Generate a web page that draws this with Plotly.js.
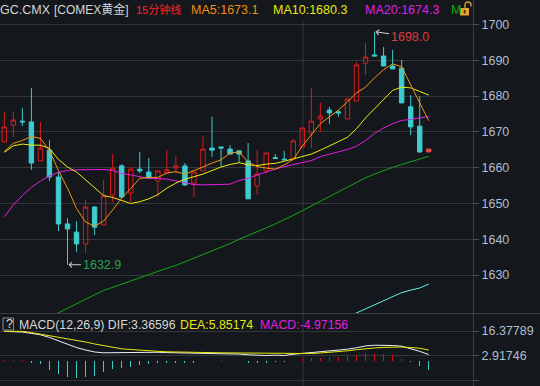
<!DOCTYPE html>
<html><head><meta charset="utf-8">
<script src="https://cdn.plot.ly/plotly-3.0.1.min.js"></script>
<style>html,body{margin:0;padding:0;background:#14171c;}#chart{width:540px;height:386px;}</style>
</head><body><div id="chart"></div>
<script>
// ---- data ----
const symbol = "GC.CMX";
const market = "[COMEX黄金]";
const period = "15分钟线";
const openP = [1667.2,1671.9,1673.0,1672.8,1661.9,1664.9,1657.4,1644.3,1642.0,1638.7,1649.0,1644.0,1652.4,1660.5,1652.9,1659.6,1658.8,1656.3,1658.5,1659.9,1660.5,1655.7,1659.1,1665.5,1665.8,1665.2,1664.7,1661.9,1654.9,1659.1,1662.8,1662.4,1662.4,1665.8,1669.7,1673.6,1676.1,1675.6,1673.6,1678.6,1689.2,1691.5,1691.2,1688.4,1687.8,1677.0,1671.6,1664.4];
const closeP = [1671.4,1673.3,1672.8,1661.3,1665.5,1657.4,1644.3,1642.9,1638.7,1649.0,1643.4,1652.1,1659.9,1651.8,1659.6,1659.1,1657.1,1659.1,1659.4,1660.5,1655.2,1658.8,1665.2,1664.9,1665.5,1663.8,1663.8,1651.3,1658.2,1664.1,1662.6,1662.2,1667.5,1671.1,1673.0,1674.4,1675.3,1675.3,1679.2,1688.7,1690.9,1691.2,1688.4,1687.6,1678.1,1671.4,1664.4,1665.2];
const highP = [1675.6,1675.6,1676.7,1682.3,1672.8,1667.7,1658.8,1645.9,1645.1,1651.0,1649.3,1656.6,1663.8,1661.0,1660.2,1664.4,1662.7,1659.1,1664.9,1663.5,1661.3,1658.8,1668.9,1674.2,1665.8,1666.3,1664.7,1666.9,1664.9,1664.1,1663.8,1664.7,1668.0,1671.1,1682.3,1678.1,1677.0,1676.1,1679.2,1689.5,1694.8,1698.0,1693.7,1692.9,1690.1,1680.3,1680.0,1665.2];
const lowP = [1666.9,1668.6,1671.6,1659.4,1661.9,1656.3,1642.3,1632.9,1636.5,1636.2,1641.2,1644.0,1650.4,1651.5,1650.4,1658.5,1657.1,1651.8,1658.5,1658.5,1654.9,1651.8,1659.1,1663.0,1660.5,1663.8,1661.5,1651.3,1652.4,1658.5,1662.6,1662.2,1662.4,1665.8,1665.5,1670.0,1672.2,1674.2,1673.6,1678.6,1685.9,1691.2,1688.4,1687.6,1678.1,1669.1,1664.1,1664.4];
const ma5 = [1664.5,1666.8,1667.6,1668.7,1668.2,1664.8,1659.2,1654.3,1648.6,1644.8,1643.7,1645.1,1648.2,1651.5,1654.2,1657.0,1657.3,1657.3,1658.5,1658.9,1658.2,1659.1,1660.2,1661.3,1662.2,1664.1,1664.4,1661.6,1660.3,1659.9,1659.6,1660.8,1662.3,1666.1,1669.3,1672.3,1674.2,1676.1,1678.4,1680.9,1682.5,1685.1,1687.4,1689.0,1688.2,1683.2,1678.2,1673.1];
const ma10 = [1664.3,1666.1,1666.6,1666.3,1666.3,1665.4,1662.3,1660.2,1658.8,1656.6,1654.2,1652.2,1651.7,1650.8,1650.0,1650.5,1651.3,1652.5,1654.3,1655.7,1656.8,1657.5,1658.2,1659.2,1660.2,1660.9,1661.4,1660.8,1660.6,1661.0,1661.2,1661.8,1662.4,1663.1,1663.8,1664.9,1666.0,1667.3,1668.5,1670.9,1673.9,1676.4,1678.9,1681.6,1682.5,1682.3,1681.3,1680.3];
const ma20 = [1646.3,1649.6,1652.2,1654.5,1656.3,1657.7,1658.7,1659.2,1659.4,1659.4,1659.6,1659.5,1659.2,1658.4,1658.0,1657.5,1657.0,1657.0,1656.8,1656.3,1655.7,1655.3,1655.2,1655.2,1655.2,1655.4,1656.4,1657.0,1658.0,1658.9,1659.6,1660.3,1660.9,1661.4,1662.0,1663.1,1663.7,1664.4,1665.1,1666.0,1667.6,1669.6,1671.1,1672.3,1673.2,1673.5,1673.9,1674.3];
const ma60 = [null,null,null,null,null,1618.2,1619.5,1620.7,1622.0,1623.3,1624.5,1625.7,1626.6,1627.5,1628.5,1629.4,1630.3,1631.1,1631.9,1632.7,1633.7,1634.7,1635.7,1636.7,1637.7,1638.8,1640.0,1641.0,1642.1,1643.2,1644.3,1645.4,1646.7,1648.0,1649.3,1650.6,1652.0,1653.3,1654.7,1656.0,1657.2,1658.2,1659.2,1660.1,1660.9,1661.7,1662.5,1663.2];
const maLong = [null,null,null,null,null,null,null,null,null,null,null,null,null,null,null,null,null,null,null,null,null,null,null,null,null,null,null,null,null,null,null,null,null,null,null,null,null,null,1618.3,1619.4,1620.5,1621.6,1622.7,1624.0,1625.1,1625.8,1626.4,1627.5];
const difV = [16.2,16.2,15.8,15.05,14.3,12.8,10.95,9.2,7.2,5.85,4.75,4.3,4.35,4.5,4.7,4.7,4.6,4.6,4.4,4.3,4.2,4.2,4.2,4.2,4.0,3.86,3.6,3.2,2.8,2.8,3.0,2.8,3.5,3.9,4.3,4.7,5.1,5.6,6.3,7.1,8.1,8.5,8.5,8.35,7.96,6.7,5.1,3.36596];
const deaV = [16.2,16.2,16.2,15.5,14.7,13.9,13.05,12.2,11.45,10.3,9.2,8.35,7.24,6.5,6.13,5.7,5.35,5.13,4.86,4.7,4.6,4.47,4.4,4.36,4.3,4.25,4.2,4.08,3.97,3.9,3.86,3.86,3.6,3.7,3.9,4.2,4.5,4.9,5.4,6.0,6.6,7.0,7.3,7.5,7.5,7.25,6.8,5.85174];
const macdV = [0.5,0.5,0.4,-1.3,-1.8,-5.2,-7.4,-8.9,-9.8,-8.9,-8.3,-6.1,-4.6,-4.3,-3.3,-2.4,-1.8,-1.5,-1.3,-1.3,-1.5,-1.1,-0.4,0,0.3,0,0,-1.3,-1.3,-1.3,-1.0,-0.9,0,0.9,1.5,1.5,2.0,2.0,2.4,3.1,4.1,3.7,3.7,3.1,0.9,-0.9,-3.1,-4.97156];
const priceTicks = [1630,1640,1650,1660,1670,1680,1690,1700];
const macdTicks = [-10.77,2.91746,16.37789];
const macdTickText = ["","2.91746","16.37789"];

// ---- drawing ----
const W = 540, H = 386;
const px = v => v / W, py = v => 1 - v / H;
const idx = openP.map((_, i) => i);
const n = idx.length;
const RED = "#d81c1c", CYAN = "#3fcbcf";
const FONT = "Liberation Sans, Arial, Noto Sans CJK SC, sans-serif";

const sub = (a, s, e) => a.slice(s, e);
const traces = [
  {type:"candlestick", x:sub(idx,0,n-1), open:sub(openP,0,n-1), high:sub(highP,0,n-1), low:sub(lowP,0,n-1), close:sub(closeP,0,n-1),
   increasing:{line:{color:RED,width:1}, fillcolor:"rgba(0,0,0,0)"},
   decreasing:{line:{color:CYAN,width:1}, fillcolor:CYAN}, whiskerwidth:0, hoverinfo:"skip"},
  {type:"candlestick", x:sub(idx,n-1), open:sub(openP,n-1), high:sub(highP,n-1), low:sub(lowP,n-1), close:sub(closeP,n-1),
   increasing:{line:{color:"#e04a4a",width:1}, fillcolor:"#e04a4a"},
   decreasing:{line:{color:CYAN,width:1}, fillcolor:CYAN}, whiskerwidth:0, hoverinfo:"skip"},
  {type:"scatter", mode:"lines", x:idx, y:ma60, line:{color:"#14a814", width:1}, hoverinfo:"skip"},
  {type:"scatter", mode:"lines", x:idx, y:maLong, line:{color:"#66eef0", width:1}, hoverinfo:"skip"},
  {type:"scatter", mode:"lines", x:idx, y:ma20, line:{color:"#e61ee6", width:1}, hoverinfo:"skip"},
  {type:"scatter", mode:"lines", x:idx, y:ma10, line:{color:"#eeee10", width:1}, hoverinfo:"skip"},
  {type:"scatter", mode:"lines", x:idx, y:ma5, line:{color:"#f39410", width:1}, hoverinfo:"skip"},
  {type:"bar", x:idx, y:macdV, yaxis:"y2", width:0.12, marker:{color:macdV.map(v => v >= 0 ? "#cc1414" : CYAN), line:{width:0}}, hoverinfo:"skip"},
  {type:"scatter", mode:"lines", x:idx, y:difV, yaxis:"y2", line:{color:"#f2f2f2", width:1}, hoverinfo:"skip"},
  {type:"scatter", mode:"lines", x:idx, y:deaV, yaxis:"y2", line:{color:"#e8e810", width:1}, hoverinfo:"skip"}
];

// price scale: 1700 at y=24.5px, 35.8px per 10
const pAt = y => 1700 - (y - 24.5) / 3.58;
const mAt = y => 2.91746 + (355.3 - y) * 0.554;

let iMax = 0, iMin = 0;
highP.forEach((v, i) => { if (v > highP[iMax]) iMax = i; });
lowP.forEach((v, i) => { if (v < lowP[iMin]) iMin = i; });

const txt = (x, y, text, color, size) => ({xref:"paper", yref:"paper", x:px(x - 2), y:py(y), xanchor:"left", yanchor:"middle",
  text:text, showarrow:false, font:{family:FONT, size:size || 12.5, color:color}});
const last = a => a[a.length - 1];

const annotations = [
  txt(0, 10, symbol, "#d6d6d6"),
  txt(54, 10, market, "#d6d6d6", 12),
  txt(136, 10, period, "#ff2222", 11),
  txt(191, 10, "MA5:" + last(ma5).toFixed(1), "#f08c10"),
  txt(273, 10, "MA10:" + last(ma10).toFixed(1), "#e8e810"),
  txt(365, 10, "MA20:" + last(ma20).toFixed(1), "#e020e0"),
  txt(451, 10, "M", "#14a814"),
  txt(5.5, 324, "?", "#e0e0e0", 12.5),
  txt(19, 324.5, "MACD(12,26,9) DIF:" + last(difV).toFixed(5), "#d6d6d6", 12.3),
  txt(180, 324.5, "DEA:" + last(deaV).toFixed(5), "#e8e810", 12.3),
  txt(260, 324.5, "MACD:" + last(macdV).toFixed(5), "#e020e0", 12.3),
  {xref:"x", yref:"y", x:iMax, y:highP[iMax], text:highP[iMax].toFixed(1), showarrow:true, ax:35, ay:5,
   arrowhead:4, arrowsize:1, arrowwidth:1, arrowcolor:"#cfcfcf", standoff:1, font:{family:FONT, size:12.5, color:"#e23a3f"}},
  {xref:"x", yref:"y", x:iMin, y:lowP[iMin], text:lowP[iMin].toFixed(1), showarrow:true, ax:34, ay:0,
   arrowhead:4, arrowsize:1, arrowwidth:1, arrowcolor:"#cfcfcf", standoff:1, font:{family:FONT, size:12.5, color:"#2aa24c"}}
];

const shapes = [
  {type:"line", xref:"paper", yref:"paper", x0:px(303), x1:px(303), y0:0, y1:py(20), line:{color:"#34363b", width:1}, layer:"below"},
  {type:"line", xref:"paper", yref:"paper", x0:0, x1:1, y0:py(313.5), y1:py(313.5), line:{color:"#3c3e44", width:1}},
  {type:"line", xref:"paper", yref:"paper", x0:px(473.5), x1:px(473.5), y0:0, y1:1, line:{color:"#3c3e44", width:1}},
  {type:"rect", xref:"paper", yref:"paper", x0:px(3), x1:px(13.5), y0:py(330), y1:py(318), line:{color:"#8c8c8c", width:1}},
  {type:"rect", xref:"paper", yref:"paper", x0:px(460), x1:px(469), y0:py(15.5), y1:py(8), line:{width:0}, fillcolor:"#e2a32a"},
  {type:"rect", xref:"paper", yref:"paper", x0:px(463.8), x1:px(465.4), y0:py(13.5), y1:py(10), line:{width:0}, fillcolor:"#3a2a10"},
  {type:"path", xref:"paper", yref:"paper",
   path:"M " + px(465) + "," + py(8) + " L " + px(465) + "," + py(5) + " Q " + px(465) + "," + py(2) + " " + px(468) + "," + py(2) +
        " Q " + px(471) + "," + py(2) + " " + px(471) + "," + py(5) + " L " + px(471) + "," + py(6.5),
   line:{color:"#e2a32a", width:1.3}}
];

const axisFont = {family:FONT, size:12.5, color:"#aebfd2"};
const layout = {
  width:W, height:H, margin:{l:0, r:0, t:0, b:0},
  paper_bgcolor:"#14171c", plot_bgcolor:"#14171c", showlegend:false, hovermode:false, dragmode:false,
  xaxis:{domain:[0, px(473)], range:[-0.476, 51.9], showgrid:false, zeroline:false, showticklabels:false, ticks:"",
         showline:false, rangeslider:{visible:false}, fixedrange:true},
  yaxis:{domain:[py(313), py(20)], range:[pAt(313), pAt(20)], side:"right", anchor:"x", tickvals:priceTicks,
         ticks:"outside", ticklen:5, tickcolor:"#4a4c52", gridcolor:"#34363b", gridwidth:1, zeroline:false, showline:false,
         tickfont:axisFont, automargin:false, fixedrange:true},
  yaxis2:{domain:[0, py(313.5)], range:[mAt(386), mAt(313.5)], side:"right", anchor:"x", tickvals:macdTicks, ticktext:macdTickText,
          ticks:"outside", ticklen:5, tickcolor:"#4a4c52", gridcolor:"#34363b", gridwidth:1, zeroline:false, showline:false,
          tickfont:axisFont, automargin:false, fixedrange:true},
  bargap:0, barmode:"overlay",
  annotations:annotations, shapes:shapes
};

Plotly.newPlot("chart", traces, layout, {staticPlot:true, displayModeBar:false});
</script>
</body></html>
